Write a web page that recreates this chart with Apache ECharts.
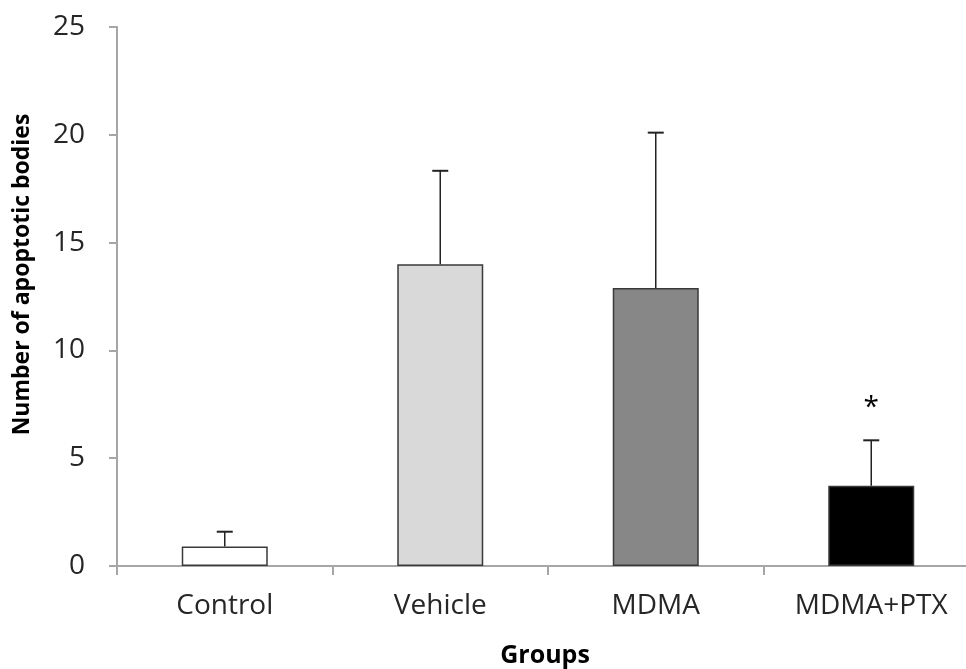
<!DOCTYPE html>
<html>
<head>
<meta charset="utf-8">
<script src="https://cdn.jsdelivr.net/npm/echarts@6/dist/echarts.min.js"></script>
<style>html,body{margin:0;padding:0;background:#fff;}#c{width:966px;height:669px;}</style>
</head>
<body>
<div id="c"></div>
<script>
var categories = ["Control", "Vehicle", "MDMA", "MDMA+PTX"];
var means = [0.9, 14.0, 12.9, 3.72];
var errors = [0.69, 4.33, 7.2, 2.11];
var marks = ["", "", "", "*"];
var barColors = ["#ffffff", "#d9d9d9", "#878787", "#000000"];
var yTicks = [0, 5, 10, 15, 20, 25];

var chart = echarts.init(document.getElementById('c'));
var font = '"Open Sans", "Noto Sans", sans-serif';
chart.setOption({
  animation: false,
  backgroundColor: '#ffffff',
  grid: { left: 117, top: 27, bottom: 103, width: 862, outerBoundsMode: 'none', containLabel: false },
  xAxis: {
    type: 'category',
    data: categories,
    name: 'Groups',
    nameLocation: 'middle',
    nameGap: 77,
    nameTextStyle: { fontFamily: font, fontWeight: 'bold', fontSize: 25, color: '#000', padding: [0, 6, 0, 0] },
    axisLine: { lineStyle: { color: '#a6a6a6', width: 2 } },
    axisTick: { show: true, length: 9, lineStyle: { color: '#a6a6a6', width: 2 } },
    axisLabel: { fontFamily: font, fontSize: 28, color: '#262626', margin: 26 }
  },
  yAxis: {
    type: 'value',
    min: yTicks[0],
    max: yTicks[yTicks.length - 1],
    interval: 5,
    name: 'Number of apoptotic bodies',
    nameLocation: 'middle',
    nameGap: 83,
    nameTextStyle: { fontFamily: font, fontWeight: 'bold', fontSize: 23, color: '#000', padding: [0, 0, 0, 44] },
    axisLine: { show: true, lineStyle: { color: '#a6a6a6', width: 2 } },
    axisTick: { show: true, length: 8, lineStyle: { color: '#a6a6a6', width: 2 } },
    axisLabel: { fontFamily: font, fontSize: 28, color: '#262626', margin: 32 },
    splitLine: { show: false }
  },
  series: [
    {
      type: 'bar',
      barWidth: 86,
      data: means.map(function (v, i) {
        return { value: v, itemStyle: { color: barColors[i], borderColor: '#3a3a3a', borderWidth: 1.5 } };
      }),
      z: 2
    },
    {
      type: 'custom',
      z: 3,
      data: means.map(function (v, i) { return [i, v, v + errors[i]]; }),
      renderItem: function (params, api) {
        var i = api.value(0);
        var lo = api.coord([i, api.value(1)]);
        var hi = api.coord([i, api.value(2)]);
        var half = 8;
        var children = [
          { type: 'line', shape: { x1: lo[0], y1: lo[1], x2: hi[0], y2: hi[1] }, style: { stroke: '#222', lineWidth: 1.5 } },
          { type: 'line', shape: { x1: hi[0] - half, y1: hi[1], x2: hi[0] + half, y2: hi[1] }, style: { stroke: '#222', lineWidth: 2 } }
        ];
        var m = marks[params.dataIndex];
        if (m) {
          children.push({ type: 'text', style: { text: m, x: hi[0], y: hi[1] - 32, align: 'center', verticalAlign: 'middle', fontSize: 28, fontFamily: font, fill: '#000' } });
        }
        return { type: 'group', children: children };
      }
    }
  ]
});
</script>
</body>
</html>
